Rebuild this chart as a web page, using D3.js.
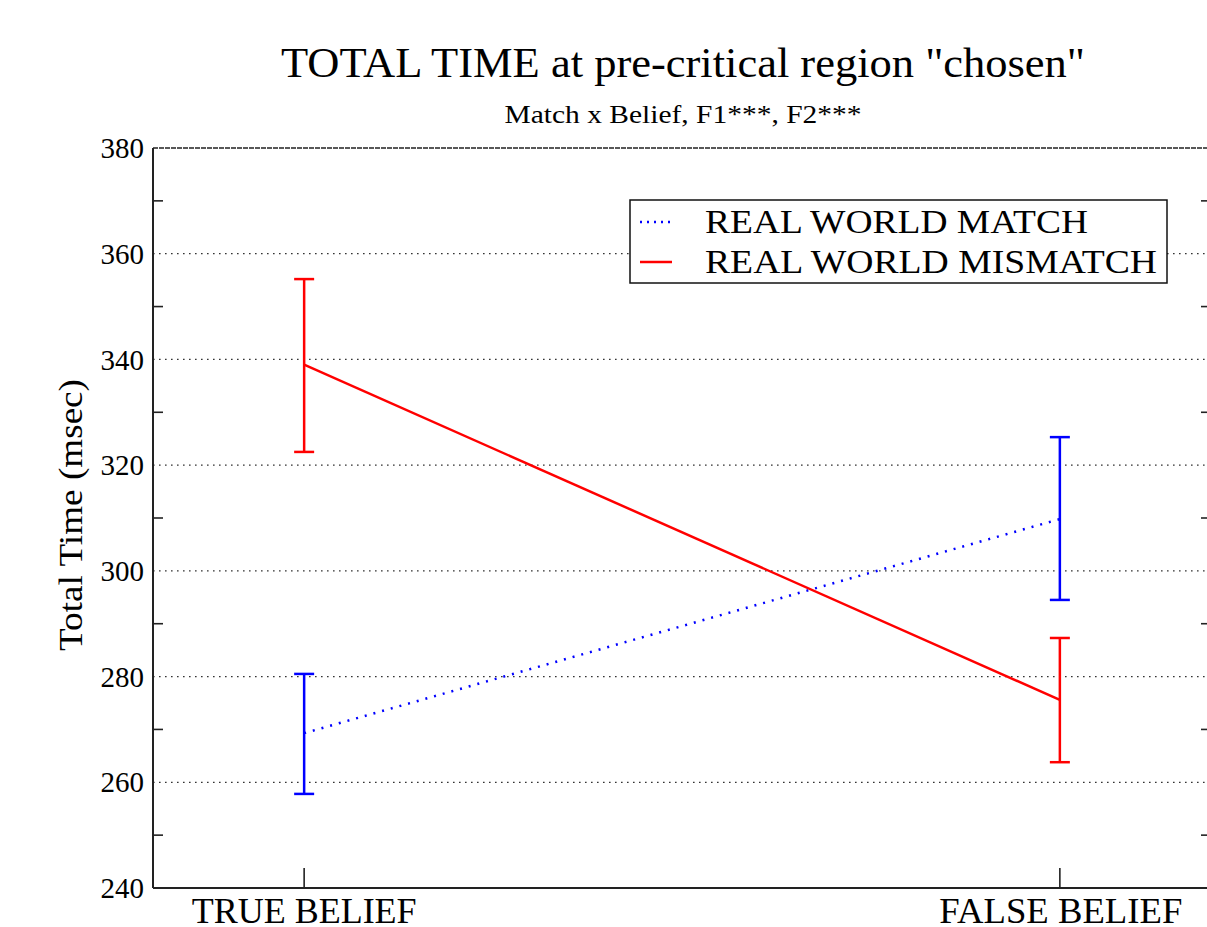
<!DOCTYPE html>
<html>
<head>
<meta charset="utf-8">
<script src="https://cdn.jsdelivr.net/npm/d3@7"></script>
<style>
  body { margin: 0; background: #fff; }
  text { font-family: "Liberation Serif", "DejaVu Serif", serif; fill: #000; }
</style>
</head>
<body>
<script>
// data
const categories = ["TRUE BELIEF", "FALSE BELIEF"];
const seriesNames = ["REAL WORLD MATCH", "REAL WORLD MISMATCH"];
const matchMean = [269.3, 309.8];
const matchLow = [257.8, 294.5];
const matchHigh = [280.5, 325.3];
const mismatchMean = [339.0, 275.6];
const mismatchLow = [322.5, 263.8];
const mismatchHigh = [355.2, 287.3];
const yMajor = [240, 260, 280, 300, 320, 340, 360, 380];
const yMinor = [250, 270, 290, 310, 330, 350, 370];

const width = 1207, height = 927;
const plotL = 153, plotR = 1211, plotT = 148, plotB = 888;

// the original font is a little wider than Liberation Serif, so stretch texts
const xLabelLen = [225, 243];
const legendLen = [383, 452];

const svg = d3.select("body").append("svg")
    .attr("width", width)
    .attr("height", height);

const x = d3.scaleLinear().domain([0.8, 2.2]).range([plotL, plotR]);
const y = d3.scaleLinear().domain([240, 380]).range([plotB, plotT]);

// gridlines
svg.append("g").selectAll("line")
    .data(yMajor.filter(v => v > 240 && v < 380))
    .enter().append("line")
    .attr("x1", plotL).attr("x2", plotR)
    .attr("y1", d => y(d)).attr("y2", d => y(d))
    .attr("stroke", "#333")
    .attr("stroke-width", 1.3)
    .attr("stroke-dasharray", "1.6,4.4");

// frame
svg.append("line").attr("x1", plotL).attr("x2", plotR).attr("y1", plotT).attr("y2", plotT)
    .attr("stroke", "#222").attr("stroke-width", 1.6).attr("stroke-dasharray", "5,1");
svg.append("line").attr("x1", plotL).attr("x2", plotR).attr("y1", plotB).attr("y2", plotB)
    .attr("stroke", "#222").attr("stroke-width", 2);
svg.append("line").attr("x1", plotL).attr("x2", plotL).attr("y1", plotT).attr("y2", plotB)
    .attr("stroke", "#222").attr("stroke-width", 2);
svg.append("line").attr("x1", plotR).attr("x2", plotR).attr("y1", plotT).attr("y2", plotB)
    .attr("stroke", "#222").attr("stroke-width", 2);

// minor ticks both sides
const ticks = svg.append("g").attr("stroke", "#222").attr("stroke-width", 1.6);
ticks.selectAll(".ml").data(yMinor).enter().append("line")
    .attr("x1", plotL).attr("x2", plotL + 10)
    .attr("y1", d => y(d)).attr("y2", d => y(d));
ticks.selectAll(".mr").data(yMinor).enter().append("line")
    .attr("x1", plotR).attr("x2", plotR - 10)
    .attr("y1", d => y(d)).attr("y2", d => y(d));
// x ticks
ticks.selectAll(".xt").data(categories).enter().append("line")
    .attr("x1", (d, i) => x(i + 1)).attr("x2", (d, i) => x(i + 1))
    .attr("y1", plotB).attr("y2", plotB - 20);

// y tick labels
svg.append("g").selectAll("text")
    .data(yMajor).enter().append("text")
    .attr("x", 144)
    .attr("y", d => y(d))
    .attr("dy", "0.35em")
    .attr("text-anchor", "end")
    .attr("font-size", 29)
    .text(d => d);

// x tick labels
svg.append("g").selectAll("text")
    .data(categories).enter().append("text")
    .attr("x", (d, i) => x(i + 1) + (i ? 1 : 0))
    .attr("y", 923)
    .attr("text-anchor", "middle")
    .attr("font-size", 36)
    .attr("textLength", (d, i) => xLabelLen[i])
    .attr("lengthAdjust", "spacingAndGlyphs")
    .text(d => d);

// titles
svg.append("text").attr("x", 683).attr("y", 77)
    .attr("text-anchor", "middle").attr("font-size", 42)
    .attr("textLength", 804).attr("lengthAdjust", "spacingAndGlyphs")
    .text('TOTAL TIME at pre-critical region "chosen"');
svg.append("text").attr("x", 683).attr("y", 123)
    .attr("text-anchor", "middle").attr("font-size", 26)
    .attr("textLength", 357).attr("lengthAdjust", "spacingAndGlyphs")
    .text("Match x Belief, F1***, F2***");
svg.append("text")
    .attr("transform", "translate(82,515) rotate(-90)")
    .attr("text-anchor", "middle").attr("font-size", 34)
    .attr("textLength", 272).attr("lengthAdjust", "spacingAndGlyphs")
    .text("Total Time (msec)");

// series
const series = [
  { name: seriesNames[0], mean: matchMean, lo: matchLow, hi: matchHigh, color: "#0000ff", dash: "2,7" },
  { name: seriesNames[1], mean: mismatchMean, lo: mismatchLow, hi: mismatchHigh, color: "#ff0000", dash: null }
];

const line = d3.line().x((d, i) => x(i + 1)).y(d => y(d));

series.forEach(s => {
  const g = svg.append("g");
  g.append("path")
    .attr("d", line(s.mean))
    .attr("fill", "none")
    .attr("stroke", s.color)
    .attr("stroke-width", 2.5)
    .attr("stroke-dasharray", s.dash);
  const bars = g.selectAll(".eb").data(s.mean).enter().append("g")
    .attr("stroke", s.color).attr("stroke-width", 2.5);
  bars.append("line")
    .attr("x1", (d, i) => x(i + 1)).attr("x2", (d, i) => x(i + 1))
    .attr("y1", (d, i) => y(s.lo[i])).attr("y2", (d, i) => y(s.hi[i]));
  bars.append("line")
    .attr("x1", (d, i) => x(i + 1) - 10).attr("x2", (d, i) => x(i + 1) + 10)
    .attr("y1", (d, i) => y(s.hi[i])).attr("y2", (d, i) => y(s.hi[i]));
  bars.append("line")
    .attr("x1", (d, i) => x(i + 1) - 10).attr("x2", (d, i) => x(i + 1) + 10)
    .attr("y1", (d, i) => y(s.lo[i])).attr("y2", (d, i) => y(s.lo[i]));
});

// legend
const lg = svg.append("g").attr("transform", "translate(630,200)");
lg.append("rect").attr("width", 537).attr("height", 83)
    .attr("fill", "#fff").attr("stroke", "#111").attr("stroke-width", 1.5);
series.forEach((s, i) => {
  const yy = 22 + i * 40;
  lg.append("line").attr("x1", 10).attr("x2", 42).attr("y1", yy).attr("y2", yy)
    .attr("stroke", s.color).attr("stroke-width", 2.5)
    .attr("stroke-dasharray", s.dash ? "2,5" : null);
  lg.append("text").attr("x", 75).attr("y", yy + 11)
    .attr("font-size", 33)
    .attr("textLength", legendLen[i]).attr("lengthAdjust", "spacingAndGlyphs")
    .text(s.name);
});
</script>
</body>
</html>
